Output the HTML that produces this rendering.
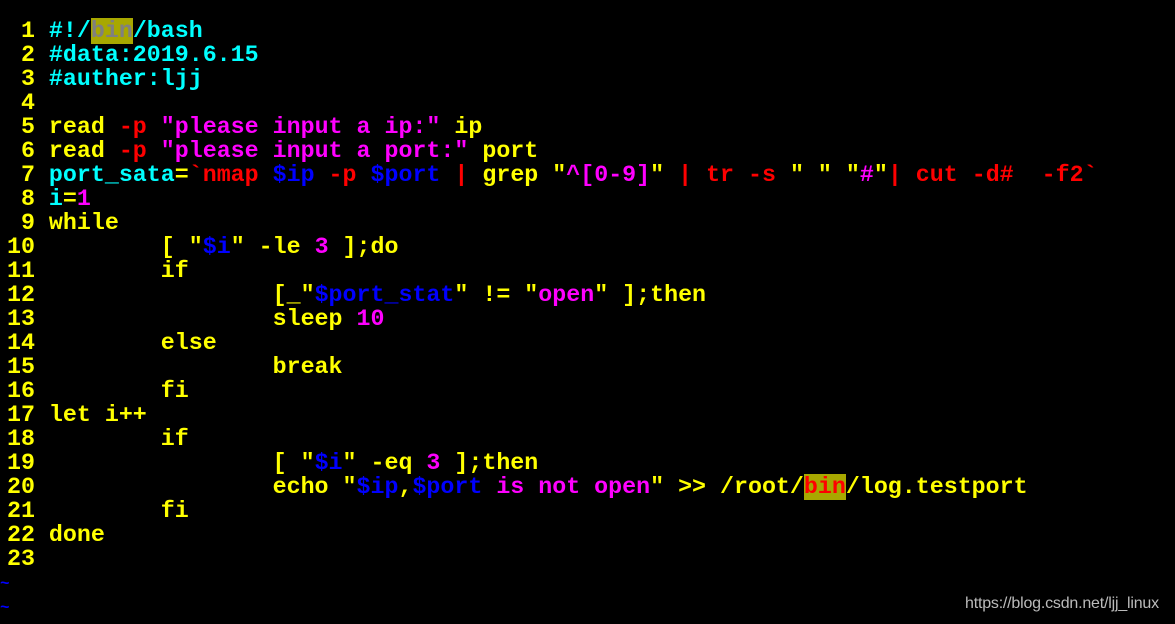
<!DOCTYPE html>
<html><head><meta charset="utf-8"><style>
body{margin:0;background:#000;width:1175px;height:624px;overflow:hidden;position:relative}
pre{margin:0;position:absolute;left:-7px;top:19px;font-family:"Liberation Mono",monospace;font-weight:bold;font-size:23.3px;line-height:24px;color:#ff0;}
.c{color:#0ff}.r{color:#f00}.m{color:#f0f}.b{color:#00f}.y{color:#ff0}
.h{background:#a8a800;color:#808080}.h2{background:#a8a800;color:#f00}
.t{position:absolute;left:0;color:#00f;font-family:"Liberation Mono",monospace;font-weight:bold;font-size:16px}
.w{position:absolute;left:965px;top:595px;color:#bbb;font-family:"Liberation Sans",sans-serif;font-size:16px;letter-spacing:-0.2px}
</style></head><body>
<pre>  1 <span class="c">#!/</span><span class="h">bin</span><span class="c">/bash</span>
  2 <span class="c">#data:2019.6.15</span>
  3 <span class="c">#auther:ljj</span>
  4 
  5 read <span class="r">-p</span> <span class="m">"please input a ip:"</span> ip
  6 read <span class="r">-p</span> <span class="m">"please input a port:"</span> port
  7 <span class="c">port_sata</span>=<span class="r">`nmap </span><span class="b">$ip</span><span class="r"> -p </span><span class="b">$port</span><span class="r"> | </span>grep "<span class="m">^[0-9]</span>"<span class="r"> | tr -s </span>" " "<span class="m">#</span>"<span class="r">| cut -d#  -f2`</span>
  8 <span class="c">i</span>=<span class="m">1</span>
  9 while
 10         [ "<span class="b">$i</span>" -le <span class="m">3</span> ];do
 11         if
 12                 [_"<span class="b">$port_stat</span>" != "<span class="m">open</span>" ];then
 13                 sleep <span class="m">10</span>
 14         else
 15                 break
 16         fi
 17 let i++
 18         if
 19                 [ "<span class="b">$i</span>" -eq <span class="m">3</span> ];then
 20                 echo "<span class="b">$ip</span>,<span class="b">$port</span><span class="m"> is not open</span>" &gt;&gt; /root/<span class="h2">bin</span>/log.testport
 21         fi
 22 done
 23 </pre>
<div class="t" style="top:575px">~</div>
<div class="t" style="top:599px">~</div>
<div class="w">https://blog.csdn.net/ljj_linux</div>
</body></html>
